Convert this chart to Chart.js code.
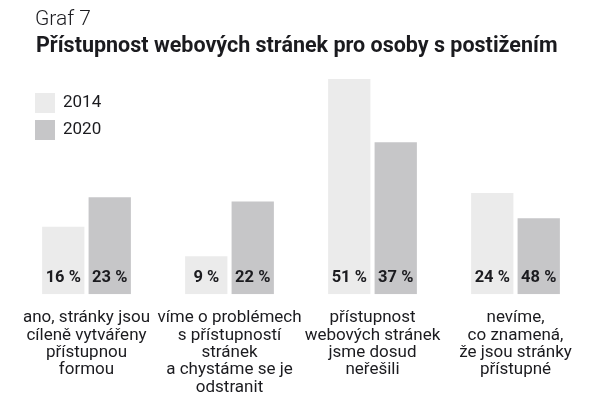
<!DOCTYPE html>
<html>
<head>
<meta charset="utf-8">
<script src="https://cdn.jsdelivr.net/npm/chart.js@4/dist/chart.umd.min.js"></script>
<style>
  html, body { margin: 0; padding: 0; background: #fff; }
  #wrap { width: 592px; height: 398px; position: relative; }
</style>
</head>
<body>
<div id="wrap"><canvas id="graf7"></canvas></div>
<script>
// Graf 7 - data
const categories = [
    ['ano, stránky jsou', 'cíleně vytvářeny', 'přístupnou', 'formou'],
    ['víme o problémech', 's přístupností', 'stránek', 'a chystáme se je', 'odstranit'],
    ['přístupnost', 'webových stránek', 'jsme dosud', 'neřešili'],
    ['nevíme,', 'co znamená,', 'že jsou stránky', 'přístupné']
];
const years = ['2014', '2020'];
// bar heights as drawn in the picture (%)
const values2014 = [16, 9, 51, 24];
const values2020 = [23, 22, 36, 18];
// percentages printed in the bars
const labels2014 = ['16 %', '9 %', '51 %', '24 %'];
const labels2020 = ['23 %', '22 %', '37 %', '48 %'];

const barLabels = [labels2014, labels2020];
const textColor = '#1b1b1f';
const fontFamily = 'Roboto, "Noto Sans", sans-serif';

// headings, legend and in-bar labels
const grafDecor = {
    id: 'grafDecor',
    afterDraw(chart) {
        const ctx = chart.ctx;
        ctx.save();
        ctx.fillStyle = textColor;
        ctx.textBaseline = 'middle';
        ctx.textAlign = 'left';
        ctx.font = '300 21px ' + fontFamily;
        ctx.fillText('Graf 7', 35, 20);
        ctx.font = 'bold 21.5px ' + fontFamily;
        ctx.fillText('Přístupnost webových stránek pro osoby s postižením', 36, 47);

        // legend
        chart.data.datasets.forEach((ds, i) => {
            const y = 93 + i * 27;
            ctx.fillStyle = ds.backgroundColor;
            ctx.fillRect(35, y, 20, 20);
            ctx.fillStyle = textColor;
            ctx.font = '17px ' + fontFamily;
            ctx.fillText(ds.label, 63, y + 10);
        });

        // value labels at the foot of each bar
        ctx.textAlign = 'center';
        ctx.font = 'bold 16.5px ' + fontFamily;
        chart.data.datasets.forEach((ds, i) => {
            chart.getDatasetMeta(i).data.forEach((bar, j) => {
                ctx.fillText(barLabels[i][j], bar.x, bar.base - 16);
            });
        });
        ctx.restore();
    }
};

new Chart(document.getElementById('graf7').getContext('2d'), {
    type: 'bar',
    data: {
        labels: categories,
        datasets: [{
            label: years[0],
            data: values2014,
            backgroundColor: '#ebebeb'
        }, {
            label: years[1],
            data: values2020,
            backgroundColor: '#c6c6c8'
        }]
    },
    options: {
        responsive: true,
        maintainAspectRatio: false,
        animation: false,
        categoryPercentage: 0.65,
        barPercentage: 0.91,
        layout: {
            padding: { top: 41, left: 15, right: 5, bottom: -5 }
        },
        plugins: {
            legend: { display: false },
            tooltip: { enabled: false }
        },
        scales: {
            x: {
                grid: { display: false },
                border: { display: false },
                ticks: {
                    color: textColor,
                    padding: 7,
                    maxRotation: 0,
                    autoSkip: false,
                    font: { family: fontFamily, size: 17, lineHeight: 1.02 }
                }
            },
            y: {
                display: false,
                min: 0,
                max: 60
            }
        }
    },
    plugins: [grafDecor]
});
</script>
</body>
</html>
